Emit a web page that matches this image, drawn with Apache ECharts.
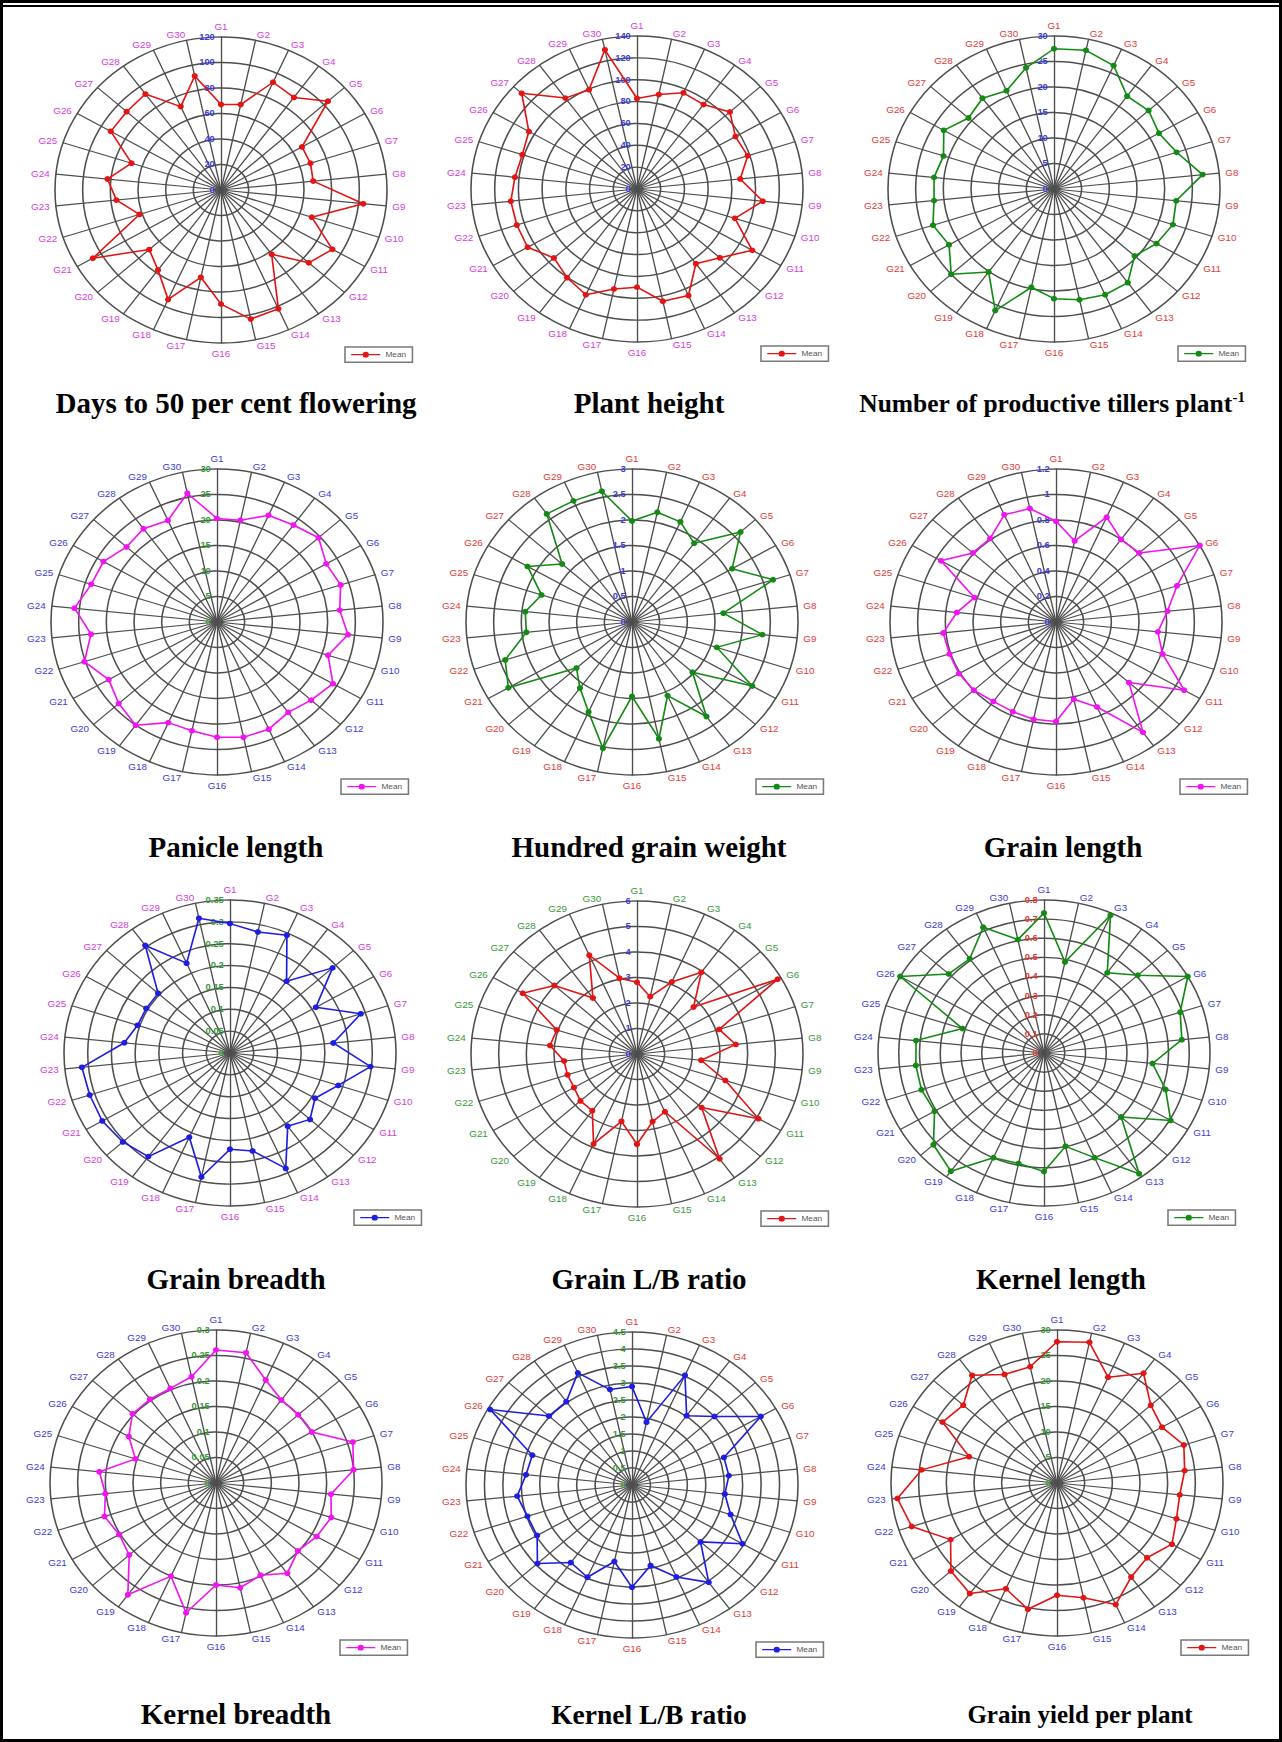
<!DOCTYPE html>
<html><head><meta charset="utf-8">
<script src="https://cdn.jsdelivr.net/npm/echarts@6/dist/echarts.min.js"></script>
<style>
html,body{margin:0;padding:0;background:#fff;}
#page{position:relative;width:1282px;height:1742px;overflow:hidden;background:#fff;}
.panel{position:absolute;}
.panel > div{position:absolute;left:0;top:0;width:100%;height:100%;}
#frameOuter{position:absolute;left:0;top:0;width:1276px;height:1736px;border:3px solid #000;}
#topRule{position:absolute;left:3px;top:5px;width:1276px;height:2px;background:#000;}
#titles{position:absolute;left:0;top:0;width:1282px;height:1742px;pointer-events:none;}
</style></head>
<body><div id="page"><div id="frameOuter"></div><div id="topRule"></div></div>
<script>
// ---- categories ----
const genotypes = ['G1','G2','G3','G4','G5','G6','G7','G8','G9','G10','G11','G12','G13','G14','G15',
  'G16','G17','G18','G19','G20','G21','G22','G23','G24','G25','G26','G27','G28','G29','G30'];

// ---- series values (Mean of each genotype) ----
const daysToFlowering = [67, 68.5, 92.5, 89.7, 104, 67.6, 68, 67, 103.4, 69, 93, 85.4, 62.3, 102, 103.5, 89.5, 70, 94, 77.5, 69.8, 107, 62, 76, 82.5, 68, 92, 91.8, 93, 71.6, 91.4];
const plantHeight = [82.8, 88.3, 96.3, 95.5, 105.4, 95.9, 98.2, 87.5, 106.7, 86.8, 112.3, 94, 84.5, 106.7, 105, 89.8, 93.5, 106, 100.3, 94.3, 106.5, 106.6, 107, 103.5, 101.7, 105.3, 130.9, 102.8, 99.5, 130.2];
const productiveTillers = [27.5, 27.8, 26.5, 22.5, 23, 21.9, 23.3, 27, 22.2, 22.6, 21.4, 19.6, 22.7, 22.7, 22.2, 21.5, 19.7, 26.1, 20.1, 25, 21.9, 23, 21.8, 21.8, 21, 23, 20.8, 22, 21.1, 24.3];
const panicleLength = [20.3, 20.4, 22.9, 23.5, 24.7, 22.8, 23.5, 22.3, 23.8, 21.1, 24.2, 22.9, 21.9, 23, 23.1, 22.6, 21.8, 21.6, 25, 23.9, 22.6, 25.2, 22.9, 25.9, 23.9, 23.7, 22, 22.6, 21.8, 25.8];
const hundredGrainWeight = [1.98, 2.2, 2.15, 1.91, 2.64, 2.09, 2.68, 1.66, 2.37, 1.61, 2.51, 1.47, 2.29, 1.58, 2.34, 1.46, 2.53, 1.93, 1.6, 1.35, 2.58, 2.41, 1.92, 1.94, 1.72, 2.18, 1.7, 2.62, 2.6, 2.62];
const grainLength = [0.79, 0.65, 0.9, 0.8, 0.81, 1.2, 0.92, 0.81, 0.74, 0.81, 1.07, 0.71, 1.07, 0.73, 0.62, 0.78, 0.78, 0.77, 0.77, 0.8, 0.81, 0.81, 0.82, 0.72, 0.62, 0.96, 0.81, 0.81, 0.92, 0.91];
const grainBreadth = [0.296, 0.283, 0.295, 0.203, 0.291, 0.209, 0.29, 0.219, 0.298, 0.24, 0.207, 0.227, 0.207, 0.289, 0.229, 0.22, 0.29, 0.211, 0.293, 0.304, 0.311, 0.311, 0.314, 0.224, 0.205, 0.204, 0.204, 0.304, 0.225, 0.315];
const grainLBRatio = [2.81, 2.3, 3.09, 3.96, 2.75, 5.87, 3.12, 3.59, 2.33, 3.36, 5.07, 3.14, 5.08, 2.48, 2.71, 3.54, 2.7, 3.86, 2.75, 2.75, 2.63, 2.64, 2.65, 3.16, 3.05, 4.77, 4.02, 2.71, 4.24, 3.04];
const kernelLength = [0.732, 0.486, 0.788, 0.519, 0.608, 0.8, 0.69, 0.668, 0.526, 0.616, 0.705, 0.5, 0.78, 0.599, 0.499, 0.62, 0.59, 0.599, 0.764, 0.717, 0.609, 0.621, 0.621, 0.62, 0.413, 0.8, 0.618, 0.609, 0.72, 0.606];
const kernelBreadth = [0.261, 0.261, 0.221, 0.201, 0.2, 0.2, 0.26, 0.25, 0.209, 0.219, 0.21, 0.199, 0.219, 0.198, 0.21, 0.2, 0.26, 0.2, 0.271, 0.211, 0.202, 0.212, 0.201, 0.212, 0.153, 0.182, 0.203, 0.203, 0.203, 0.213];
const kernelLBRatio = [2.9, 1.89, 3.53, 2.52, 3.01, 4.03, 2.62, 2.64, 2.53, 2.81, 3.46, 2.5, 3.54, 2.96, 2.42, 3.01, 2.3, 2.97, 2.82, 3.45, 2.97, 2.98, 3.13, 2.89, 2.84, 4.44, 3.03, 3.03, 3.61, 2.87];
const grainYield = [27.7, 28.2, 22.7, 26.6, 22.8, 21.9, 24.1, 23.2, 22.3, 22.7, 24, 21.9, 22.8, 26.1, 23, 22, 25.3, 22.7, 26.8, 25.8, 22.2, 27.6, 29, 24.6, 16.7, 23.9, 22.8, 26.1, 23.3, 23.3];

// ---- tick labels of each radial axis ----
const daysTicks = [0, 20, 40, 60, 80, 100, 120];
const heightTicks = [0, 20, 40, 60, 80, 100, 120, 140];
const tillerTicks = [0, 5, 10, 15, 20, 25, 30];
const panicleTicks = [0, 5, 10, 15, 20, 25, 30];
const hgwTicks = [0, 0.5, 1, 1.5, 2, 2.5, 3];
const grainLenTicks = [0, 0.2, 0.4, 0.6, 0.8, 1, 1.2];
const grainBrTicks = [0, 0.05, 0.1, 0.15, 0.2, 0.25, 0.3, 0.35];
const grainLBTicks = [0, 1, 2, 3, 4, 5, 6];
const kernelLenTicks = [0, 0.1, 0.2, 0.3, 0.4, 0.5, 0.6, 0.7, 0.8];
const kernelBrTicks = [0, 0.05, 0.1, 0.15, 0.2, 0.25, 0.3];
const kernelLBTicks = [0, 0.5, 1, 1.5, 2, 2.5, 3, 3.5, 4, 4.5];
const yieldTicks = [0, 5, 10, 15, 20, 25, 30];

// ---- titles ----
const titles = ['Days to 50 per cent flowering', 'Plant height', 'Number of productive tillers plant{sup|-1}',
  'Panicle length', 'Hundred grain weight', 'Grain length',
  'Grain breadth', 'Grain L/B ratio', 'Kernel length',
  'Kernel breadth', 'Kernel L/B ratio', 'Grain yield per plant'];

// ---- styles ----
const MAG_T = '#d43cdc', RED_T = '#e23a36', BLUE_T = '#3c3cd6', GREEN_T = '#3a973a';
const RED_L = '#e21414', GREEN_L = '#138a13', MAG_L = '#f014f0', BLUE_L = '#1e1ee0';
const GRID = '#4e4e4e';

const panels = [
  {values: daysToFlowering, ticks: daysTicks, nameC: MAG_T, tickC: BLUE_T, lineC: RED_L, cx: 221, cy: 190, tx: 236, ty: 403, fs: 29},
  {values: plantHeight, ticks: heightTicks, nameC: MAG_T, tickC: BLUE_T, lineC: RED_L, cx: 637, cy: 189, tx: 649, ty: 403, fs: 29},
  {values: productiveTillers, ticks: tillerTicks, nameC: RED_T, tickC: BLUE_T, lineC: GREEN_L, cx: 1054, cy: 189, tx: 1052, ty: 403, fs: 25.5},
  {values: panicleLength, ticks: panicleTicks, nameC: BLUE_T, tickC: GREEN_T, lineC: MAG_L, cx: 217, cy: 622, tx: 236, ty: 847, fs: 29},
  {values: hundredGrainWeight, ticks: hgwTicks, nameC: RED_T, tickC: BLUE_T, lineC: GREEN_L, cx: 632, cy: 622, tx: 649, ty: 847, fs: 29},
  {values: grainLength, ticks: grainLenTicks, nameC: RED_T, tickC: BLUE_T, lineC: MAG_L, cx: 1056, cy: 622, tx: 1063, ty: 847, fs: 29},
  {values: grainBreadth, ticks: grainBrTicks, nameC: MAG_T, tickC: GREEN_T, lineC: BLUE_L, cx: 230, cy: 1053, tx: 236, ty: 1279, fs: 29},
  {values: grainLBRatio, ticks: grainLBTicks, nameC: GREEN_T, tickC: BLUE_T, lineC: RED_L, cx: 637, cy: 1054, tx: 649, ty: 1279, fs: 29},
  {values: kernelLength, ticks: kernelLenTicks, nameC: BLUE_T, tickC: RED_T, lineC: GREEN_L, cx: 1044, cy: 1053, tx: 1061, ty: 1279, fs: 29},
  {values: kernelBreadth, ticks: kernelBrTicks, nameC: BLUE_T, tickC: GREEN_T, lineC: MAG_L, cx: 216, cy: 1483, tx: 236, ty: 1714, fs: 29},
  {values: kernelLBRatio, ticks: kernelLBTicks, nameC: RED_T, tickC: GREEN_T, lineC: BLUE_L, cx: 632, cy: 1485, tx: 649, ty: 1714, fs: 27.5},
  {values: grainYield, ticks: yieldTicks, nameC: BLUE_T, tickC: GREEN_T, lineC: RED_L, cx: 1057, cy: 1483, tx: 1080, ty: 1714, fs: 25}
];

const colX = [0, 428, 855], colW = [428, 427, 427];
const rowY = [0, 432, 862, 1292], rowH = [432, 430, 430, 450];
const RADIUS = 160;
// the reference radars are slightly elliptical (wider than tall)
const SX = 166 / RADIUS, SY = 153 / RADIUS;
const legendIcon = 'path://M0 3.25h11v1.5H0z M17 3.25h11v1.5H17z M11 4a3 3 0 1 0 6 0a3 3 0 1 0 -6 0z';
const FONT = 'Liberation Sans, Arial, sans-serif';

// ECharts radar lays indicators counter-clockwise; the reference runs clockwise
const order = [0].concat(genotypes.map((g, i) => i).slice(1).reverse());

const page = document.getElementById('page');
panels.forEach((p, k) => {
  const col = k % 3, row = Math.floor(k / 3);
  const x0 = colX[col], y0 = rowY[row];
  const ccx = p.cx - x0, ccy = p.cy - y0;
  const wrap = document.createElement('div');
  wrap.className = 'panel';
  wrap.style.left = x0 + 'px'; wrap.style.top = y0 + 'px';
  wrap.style.width = colW[col] + 'px'; wrap.style.height = rowH[row] + 'px';
  wrap.style.transformOrigin = ccx + 'px ' + ccy + 'px';
  wrap.style.transform = 'scale(' + SX + ',' + SY + ')';
  const div = document.createElement('div');
  wrap.appendChild(div);
  page.appendChild(wrap);
  const chart = echarts.init(div, null, {renderer: 'svg'});
  const maxV = p.ticks[p.ticks.length - 1];
  const indicator = order.map((idx, j) => ({
    name: genotypes[idx], min: 0, max: maxV,
    axisLabel: j === 0 ? {
      show: true, color: p.tickC, fontSize: 9, fontWeight: 'bold', margin: 6, fontFamily: FONT,
      formatter: v => String(+(+v).toFixed(3))
    } : {show: false}
  }));
  chart.setOption({
    animation: false,
    backgroundColor: 'transparent',
    radar: {
      center: [ccx, ccy],
      radius: RADIUS,
      shape: 'circle',
      startAngle: 90,
      splitNumber: p.ticks.length - 1,
      indicator: indicator,
      axisName: {color: p.nameC, fontSize: 9.5, fontFamily: FONT},
      nameGap: 6,
      axisLine: {show: true, lineStyle: {color: GRID, width: 1.3}},
      splitLine: {show: true, lineStyle: {color: GRID, width: 1.5}},
      splitArea: {show: false},
      axisTick: {show: false},
      axisLabel: {show: false}
    },
    legend: {
      data: ['Mean'],
      left: ccx + 124 / SX, top: ccy + 157 / SY,
      icon: legendIcon, itemWidth: 28, itemHeight: 8,
      borderColor: '#7a7a7a', borderWidth: 1.5, padding: [4, 6], backgroundColor: '#fff',
      textStyle: {fontSize: 8, color: '#555', fontFamily: FONT},
      selectedMode: false
    },
    series: [{
      type: 'radar',
      name: 'Mean',
      symbol: 'circle', symbolSize: 6,
      lineStyle: {color: p.lineC, width: 1.6},
      itemStyle: {color: p.lineC},
      data: [{name: 'Mean', value: order.map(idx => p.values[idx])}]
    }]
  });
});

// ---- panel titles (one unscaled layer for the whole page) ----
const tdiv = document.createElement('div');
tdiv.id = 'titles';
page.appendChild(tdiv);
const tchart = echarts.init(tdiv, null, {renderer: 'svg'});
tchart.setOption({
  animation: false,
  graphic: panels.map((p, k) => ({
    type: 'text', x: p.tx, y: p.ty,
    style: {
      text: titles[k], textAlign: 'center', textVerticalAlign: 'middle',
      font: 'bold ' + p.fs + 'px "Liberation Serif", "Times New Roman", serif', fill: '#000',
      rich: {sup: {font: 'bold ' + Math.round(p.fs * 0.58) + 'px "Liberation Serif", serif', verticalAlign: 'top', padding: [0, 0, 12, 0]}}
    }
  }))
});
</script>
</body></html>
